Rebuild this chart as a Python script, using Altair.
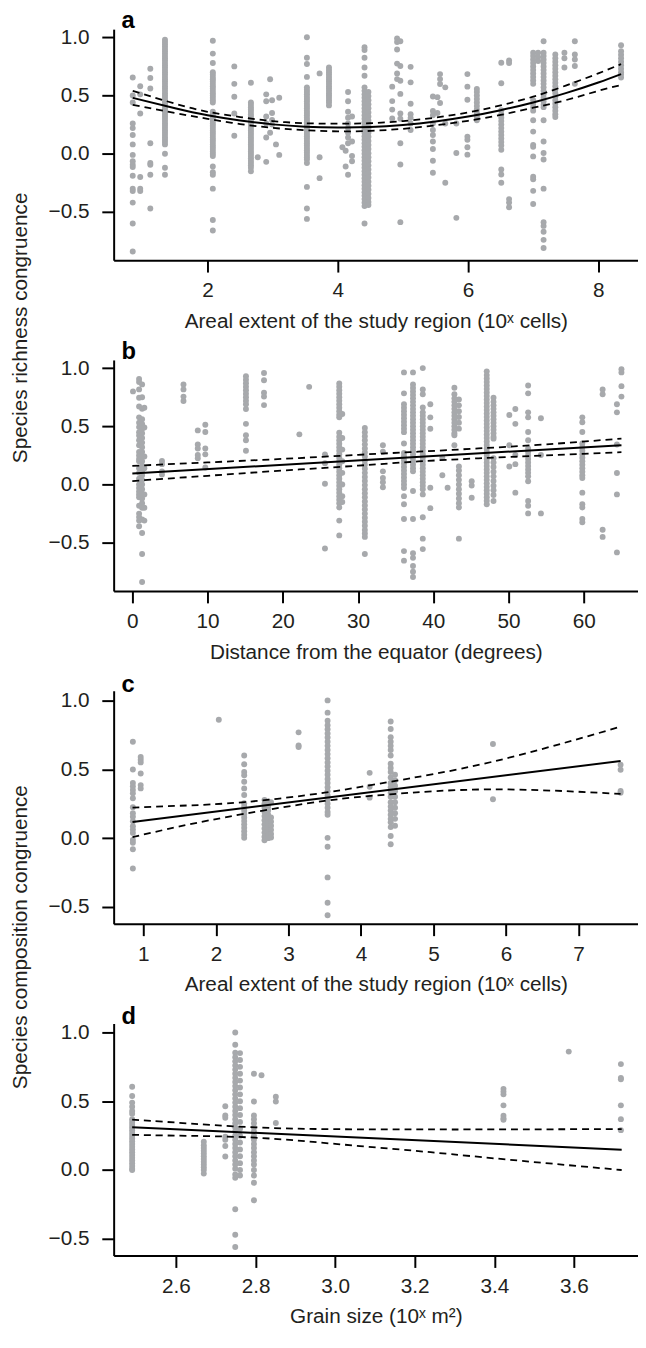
import altair as alt
import pandas as pd

FONT = "Liberation Sans"
GREY = "#a7a9ac"
INK = "#231f20"

# ---------------- panel a: richness congruence vs areal extent ----------------
A_COLS = [
    (0.85, [0.655, 0.50, 0.44, 0.26, 0.22, 0.16, 0.08, -0.01, -0.065, -0.095, -0.115, -0.19, -0.30, -0.32, -0.42, -0.60, -0.84]),
    (0.965, [0.58, 0.51, 0.345, -0.20, -0.30, -0.32]),
    (1.12, [0.73, 0.65, 0.56, 0.09, -0.08, -0.095, -0.18, -0.47]),
    (1.345, [0.98, 0.96, 0.94, 0.92, 0.90, 0.88, 0.86, 0.84, 0.82, 0.80, 0.78, 0.76, 0.74, 0.72, 0.70, 0.68, 0.66, 0.64, 0.62, 0.60,
             0.58, 0.56, 0.54, 0.52, 0.50, 0.48, 0.46, 0.44, 0.42, 0.40, 0.38, 0.36, 0.34, 0.32, 0.30, 0.28, 0.26, 0.24, 0.22, 0.20,
             0.18, 0.16, 0.14, 0.12, 0.10, 0.08, 0.0, -0.12, -0.18]),
    (2.08, [0.97, 0.86, 0.78, 0.70, 0.68, 0.66, 0.64, 0.62, 0.60, 0.58, 0.56, 0.54, 0.52, 0.50, 0.48, 0.46, 0.44, 0.36, 0.34, 0.32,
            0.30, 0.28, 0.26, 0.24, 0.22, 0.20, 0.18, 0.16, 0.14, 0.12, 0.10, 0.08, 0.06, 0.04, 0.02, 0.0, -0.02, -0.11, -0.16, -0.18,
            -0.30, -0.57, -0.66]),
    (2.41, [0.75, 0.60, 0.49, 0.345, 0.155]),
    (2.665, [0.61, 0.44, 0.42, 0.40, 0.38, 0.36, 0.34, 0.32, 0.30, 0.28, 0.26, 0.24, 0.22, 0.20, 0.18, 0.16, 0.14, 0.12, 0.10, 0.08,
             0.06, 0.04, 0.02, 0.0, -0.02, -0.04, -0.06, -0.08, -0.10, -0.12, -0.15]),
    (2.77, [-0.03]),
    (2.90, [0.51, 0.45, 0.32, 0.26, 0.14, -0.07]),
    (2.96, [0.64, 0.18]),
    (2.99, [0.46, 0.35, 0.29, 0.25]),
    (3.05, [0.08]),
    (3.10, [0.48, -0.01]),
    (3.525, [1.0, 0.825, 0.77, 0.66, 0.57, 0.55, 0.53, 0.51, 0.49, 0.47, 0.45, 0.43, 0.41, 0.39, 0.37, 0.35, 0.33, 0.31, 0.29, 0.27,
             0.25, 0.23, 0.21, 0.19, 0.17, 0.15, 0.13, 0.11, 0.09, 0.07, 0.05, 0.03, 0.01, -0.01, -0.03, -0.05, -0.08, -0.285, -0.47, -0.56]),
    (3.72, [0.69, -0.03, -0.21]),
    (3.864, [0.74, 0.72, 0.70, 0.68, 0.66, 0.64, 0.62, 0.60, 0.58, 0.56, 0.54, 0.52, 0.50, 0.48, 0.46, 0.44, 0.415]),
    (4.07, [0.055]),
    (4.12, [0.025, -0.11]),
    (4.157, [0.53, 0.45, 0.36, 0.31, 0.26, 0.22, 0.18, 0.14, 0.09, -0.18]),
    (4.218, [0.32, 0.105, -0.02, -0.065]),
    (4.41, [0.915, 0.89, 0.825, 0.74, 0.67, 0.57, 0.54, 0.51, 0.48, 0.45, 0.42, 0.39, 0.36, 0.33, 0.30, 0.27, 0.24, 0.21, 0.18, 0.15,
            0.12, 0.09, 0.06, 0.03, 0.0, -0.03, -0.06, -0.09, -0.12, -0.15, -0.18, -0.21, -0.24, -0.27, -0.30, -0.33, -0.36, -0.39,
            -0.42, -0.45, -0.60]),
    (4.47, [0.53, 0.495, 0.46, 0.425, 0.39, 0.355, 0.32, 0.285, 0.25, 0.215, 0.18, 0.145, 0.11, 0.075, 0.04, 0.005, -0.03, -0.065,
            -0.10, -0.135, -0.17, -0.205, -0.24, -0.275, -0.31, -0.345, -0.38, -0.415, -0.44]),
    (4.835, [0.576, 0.452, 0.379, 0.302]),
    (4.91, [0.99, 0.96, 0.895, 0.774, 0.689, 0.641]),
    (4.96, [0.966, 0.754, 0.627, 0.514, 0.345, 0.30, 0.09, -0.093, -0.588]),
    (5.118, [0.746, 0.613, 0.429, 0.339, 0.308, 0.26, 0.203]),
    (5.46, [0.492, 0.367, 0.33, 0.26, 0.203, 0.16, 0.105, 0.04, -0.06, -0.164]),
    (5.53, [0.486, 0.35]),
    (5.57, [0.684, 0.641, 0.599, 0.435]),
    (5.65, [0.57, 0.26, -0.249]),
    (5.82, [0.26, 0.006, -0.551]),
    (5.99, [0.684, 0.576, 0.463, 0.147, 0.12, 0.056, -0.008]),
    (6.135, [0.556, 0.53, 0.50, 0.47, 0.44, 0.41, 0.38, 0.35, 0.32, 0.288]),
    (6.51, [0.782, 0.605, 0.373, 0.34, 0.31, 0.28, 0.25, 0.22, 0.19, 0.16, 0.13, 0.10, 0.07, 0.034, -0.136, -0.178, -0.249]),
    (6.63, [0.80, 0.78, -0.39, -0.42, -0.46]),
    (7.0, [0.867, 0.84, 0.81, 0.78, 0.75, 0.72, 0.69, 0.66, 0.63, 0.60, 0.46, 0.43, 0.40, 0.37, 0.288, 0.19, 0.076, 0.06, -0.023,
           -0.198, -0.22, -0.319, -0.432]),
    (7.076, [0.867, 0.83, 0.797]),
    (7.16, [0.966, 0.867, 0.84, 0.81, 0.78, 0.75, 0.72, 0.69, 0.66, 0.63, 0.60, 0.57, 0.54, 0.51, 0.48, 0.45, 0.42, 0.40, 0.288,
            0.105, 0.006, -0.05, -0.30, -0.588, -0.62, -0.67, -0.74, -0.81]),
    (7.34, [0.853, 0.82, 0.79, 0.76, 0.73, 0.70, 0.67, 0.64, 0.61, 0.58, 0.55, 0.52, 0.49, 0.46, 0.43, 0.40, 0.37, 0.34, 0.316]),
    (7.48, [0.867, 0.82, 0.74]),
    (7.64, [0.966, 0.853, 0.81, 0.754, 0.6]),
    (8.35, [0.932, 0.88, 0.85, 0.82, 0.79, 0.76, 0.73, 0.70, 0.68, 0.655]),
]
A_FIT_X = [0.85, 1.5, 2.0, 2.5, 3.0, 3.5, 4.0, 4.5, 5.0, 5.5, 6.0, 6.5, 7.0, 7.5, 8.0, 8.35]
A_FIT = [0.48, 0.39, 0.33, 0.285, 0.252, 0.232, 0.225, 0.229, 0.247, 0.277, 0.319, 0.374, 0.44, 0.52, 0.612, 0.684]
A_UP = [0.54, 0.43, 0.36, 0.315, 0.28, 0.262, 0.258, 0.262, 0.28, 0.31, 0.355, 0.415, 0.49, 0.585, 0.69, 0.77]
A_LO = [0.42, 0.35, 0.30, 0.255, 0.222, 0.202, 0.192, 0.196, 0.214, 0.244, 0.283, 0.333, 0.395, 0.46, 0.54, 0.59]

# ---------------- panel b: richness congruence vs latitude ----------------
B_COLS = [
    (0.09, [0.80]),
    (0.9, [0.907, 0.88, 0.817, 0.746, 0.67, 0.577, 0.53, 0.493, 0.45, 0.42, 0.38, 0.338, 0.28, 0.25, 0.22, 0.20, 0.14, 0.10, 0.05,
           0.0, -0.03, -0.06, -0.085, -0.11, -0.183, -0.25, -0.28, -0.31, -0.358]),
    (1.3, [0.86, 0.75, 0.65, 0.56, 0.52, 0.48, 0.44, 0.40, 0.36, 0.32, 0.28, 0.24, 0.20, 0.16, 0.12, 0.08, 0.04, 0.0, -0.04, -0.08,
           -0.12, -0.16, -0.20, -0.30, -0.417, -0.597, -0.837]),
    (1.6, [0.66, 0.49, 0.24, 0.14, -0.085, -0.2, -0.31]),
    (3.94, [0.203, 0.175, 0.113, 0.085]),
    (6.8, [0.859, 0.817, 0.755, 0.718]),
    (8.7, [0.465, 0.344, 0.31, 0.254, 0.225]),
    (9.7, [0.513, 0.451, 0.31, 0.259, 0.146]),
    (15.1, [0.93, 0.90, 0.87, 0.84, 0.81, 0.78, 0.75, 0.72, 0.69, 0.648, 0.521, 0.423, 0.38, 0.29]),
    (17.5, [0.958, 0.896, 0.789, 0.755, 0.682]),
    (22.2, [0.431]),
    (23.5, [0.839]),
    (25.6, [0.259, 0.183, 0.006, -0.549]),
    (27.5, [0.868, 0.84, 0.81, 0.78, 0.75, 0.72, 0.69, 0.66, 0.63, 0.60, 0.577, 0.445, 0.41, 0.38, 0.35, 0.32, 0.29, 0.26, 0.23,
            0.20, 0.17, 0.14, 0.11, 0.08, 0.05, 0.02, -0.01, -0.04, -0.07, -0.10, -0.13, -0.16, -0.197, -0.31, -0.437]),
    (27.9, [0.606, 0.40, 0.30, 0.20, 0.10, 0.0, -0.10, -0.15]),
    (30.9, [0.485, 0.45, 0.415, 0.38, 0.345, 0.31, 0.275, 0.24, 0.205, 0.17, 0.135, 0.10, 0.065, 0.03, -0.005, -0.04, -0.075,
            -0.11, -0.145, -0.18, -0.215, -0.25, -0.285, -0.32, -0.355, -0.39, -0.42, -0.45, -0.597]),
    (33.3, [0.338, 0.282, 0.113, 0.056, 0.02, -0.023]),
    (36.1, [0.963, 0.783, 0.69, 0.66, 0.63, 0.60, 0.57, 0.54, 0.51, 0.48, 0.45, 0.352, 0.27, 0.24, 0.21, 0.18, 0.15, 0.12, 0.09,
            0.06, 0.03, 0.0, -0.03, -0.1, -0.17, -0.296, -0.572, -0.654]),
    (37.3, [0.963, 0.859, 0.83, 0.80, 0.77, 0.74, 0.71, 0.68, 0.648, 0.62, 0.59, 0.56, 0.53, 0.50, 0.47, 0.44, 0.41, 0.38, 0.35,
            0.32, 0.29, 0.26, 0.23, 0.20, 0.17, 0.14, 0.113, -0.056, -0.296, -0.59, -0.63, -0.70, -0.75, -0.795]),
    (38.6, [1.0, 0.817, 0.775, 0.662, 0.62, 0.59, 0.56, 0.53, 0.50, 0.47, 0.44, 0.41, 0.38, 0.35, 0.32, 0.29, 0.26, 0.23, 0.20,
            0.17, 0.14, 0.11, 0.08, 0.05, 0.02, -0.01, -0.04, -0.085, -0.282, -0.465, -0.555]),
    (39.6, [0.69, 0.577, 0.479, -0.028, -0.203]),
    (41.2, [0.231, 0.079]),
    (41.9, [-0.028]),
    (42.8, [0.831, 0.775, 0.74, 0.71, 0.68, 0.65, 0.62, 0.59, 0.56, 0.53, 0.50, 0.47, 0.44, 0.423, 0.338]),
    (43.4, [0.73, 0.68, 0.63, 0.58, 0.53, 0.48, 0.155, 0.12, 0.08, 0.04, 0.0, -0.04, -0.08, -0.12, -0.16, -0.197, -0.465]),
    (45.1, [0.028, -0.008, -0.113]),
    (47.1, [0.972, 0.94, 0.91, 0.88, 0.85, 0.82, 0.79, 0.76, 0.73, 0.70, 0.67, 0.64, 0.61, 0.58, 0.55, 0.52, 0.49, 0.46, 0.43,
            0.40, 0.37, 0.34, 0.31, 0.28, 0.254, 0.22, 0.19, 0.16, 0.13, 0.10, 0.07, 0.04, 0.01, -0.02, -0.05, -0.08, -0.11, -0.14,
            -0.17]),
    (48.0, [0.746, 0.71, 0.68, 0.65, 0.62, 0.59, 0.56, 0.53, 0.50, 0.47, 0.44, 0.41, 0.394, 0.225, 0.19, 0.15, 0.11, 0.07, 0.03,
            -0.01, -0.05, -0.09, -0.141]),
    (50.1, [0.597, 0.338, 0.155]),
    (50.9, [0.648, 0.521, 0.254, 0.175, -0.07]),
    (52.6, [0.851, 0.783, 0.62, 0.577, 0.451, 0.38, 0.31, 0.28, 0.25, 0.22, 0.19, 0.16, 0.13, 0.10, 0.07, 0.028, -0.141, -0.183,
            -0.248]),
    (54.3, [0.569, 0.254, -0.248]),
    (59.8, [0.577, 0.535, 0.451, 0.352, 0.32, 0.29, 0.26, 0.23, 0.20, 0.17, 0.14, 0.11, 0.08, 0.056, -0.07, -0.169, -0.197,
            -0.296, -0.324]),
    (62.5, [0.817, 0.775, -0.389, -0.45]),
    (64.4, [0.69, 0.62, 0.344, 0.099, -0.085, -0.583]),
    (65.0, [0.99, 0.963, 0.845, 0.755]),
]
B_FIT_X = [0, 65]
B_FIT = [0.095, 0.338]
B_CI_X = [0, 10, 20, 30, 38, 46, 55, 65]
B_UP = [0.16, 0.19, 0.22, 0.255, 0.282, 0.31, 0.345, 0.395]
B_LO = [0.03, 0.075, 0.12, 0.162, 0.198, 0.225, 0.25, 0.278]

# ---------------- panel c: composition congruence vs areal extent ----------------
C_COLS = [
    (0.855, [0.70, 0.498, 0.40, 0.376, 0.35, 0.325, 0.29, 0.225, 0.18, 0.156, 0.122, 0.086, 0.062, 0.038, -0.014, -0.033,
             -0.081, -0.22]),
    (0.963, [0.589, 0.569, 0.55, 0.469, 0.385, 0.361]),
    (2.04, [0.859]),
    (2.39, [0.60, 0.536, 0.48, 0.457, 0.409, 0.361, 0.313, 0.254, 0.23, 0.20, 0.175, 0.15, 0.125, 0.10, 0.075, 0.05, 0.025, 0.002]),
    (2.67, [0.278, 0.25, 0.22, 0.19, 0.16, 0.13, 0.10, 0.07, 0.04, 0.01, -0.015]),
    (2.72, [0.266, 0.23, 0.20, 0.17, 0.14, 0.11, 0.08, 0.05, 0.02, 0.0]),
    (2.76, [0.26, 0.15, 0.12, 0.09, 0.06, 0.03, 0.005]),
    (3.14, [0.768, 0.672, 0.662]),
    (3.54, [1.0, 0.911, 0.852, 0.82, 0.79, 0.76, 0.73, 0.70, 0.67, 0.64, 0.61, 0.58, 0.55, 0.52, 0.49, 0.46, 0.43, 0.40, 0.37,
            0.34, 0.31, 0.28, 0.25, 0.22, 0.19, 0.17, 0.002, -0.062, -0.285, -0.469, -0.56]),
    (4.12, [0.474, 0.373, 0.294]),
    (4.41, [0.847, 0.792, 0.732, 0.70, 0.67, 0.64, 0.60, 0.54, 0.51, 0.48, 0.44, 0.40, 0.37, 0.33, 0.30, 0.26, 0.23, 0.20, 0.17,
            0.14, 0.115, 0.08, 0.015, -0.045]),
    (4.47, [0.46, 0.42, 0.38, 0.34, 0.30, 0.26, 0.22, 0.18, 0.14, 0.09]),
    (5.82, [0.684, 0.282]),
    (7.58, [0.533, 0.497, 0.342, 0.33]),
]
C_FIT_X = [0.85, 7.58]
C_FIT = [0.117, 0.56]
C_CI_X = [0.85, 1.5, 2.4, 3.5, 4.4, 5.8, 7.58]
C_UP = [0.222, 0.235, 0.262, 0.33, 0.409, 0.553, 0.809]
C_LO = [0.007, 0.085, 0.177, 0.27, 0.318, 0.354, 0.321]

# ---------------- panel d: composition congruence vs grain size ----------------
D_COLS = [
    (2.49, [0.605, 0.538, 0.49, 0.46, 0.43, 0.41, 0.37, 0.35, 0.33, 0.31, 0.29, 0.27, 0.25, 0.23, 0.21, 0.19, 0.17, 0.15, 0.13,
            0.11, 0.09, 0.07, 0.05, 0.03, 0.01, 0.0]),
    (2.67, [0.206, 0.18, 0.16, 0.14, 0.12, 0.10, 0.08, 0.06, 0.04, 0.02, 0.0, -0.026]),
    (2.724, [0.464, 0.397, 0.38, 0.242, 0.22, 0.175, 0.098]),
    (2.749, [1.0, 0.911, 0.852, 0.82, 0.79, 0.76, 0.73, 0.70, 0.67, 0.64, 0.61, 0.58, 0.55, 0.52, 0.49, 0.46, 0.43, 0.40, 0.37,
             0.34, 0.31, 0.28, 0.25, 0.22, 0.19, 0.16, 0.13, 0.10, 0.07, 0.04, 0.01, -0.033, -0.057, -0.285, -0.471, -0.56]),
    (2.761, [0.85, 0.80, 0.75, 0.70, 0.65, 0.60, 0.55, 0.50, 0.45, 0.40, 0.35, 0.30, 0.25, 0.20, 0.15, 0.10, 0.05, 0.0, -0.04]),
    (2.796, [0.70, 0.498, 0.397, 0.37, 0.34, 0.31, 0.28, 0.25, 0.22, 0.19, 0.16, 0.13, 0.10, 0.07, 0.04, 0.0, -0.04, -0.093, -0.22]),
    (2.815, [0.689]),
    (2.851, [0.533, 0.498, 0.342]),
    (3.423, [0.59, 0.57, 0.55, 0.47, 0.394, 0.375, 0.365]),
    (3.587, [0.861]),
    (3.718, [0.77, 0.67, 0.66, 0.47, 0.37, 0.29]),
]
D_FIT_X = [2.49, 3.72]
D_FIT = [0.311, 0.148]
D_CI_X = [2.49, 2.6, 2.8, 3.0, 3.2, 3.4, 3.72]
D_UP = [0.366, 0.345, 0.31, 0.297, 0.295, 0.295, 0.298]
D_LO = [0.256, 0.25, 0.235, 0.19, 0.14, 0.085, 0.0]

Y_TICKS = [-0.5, 0.0, 0.5, 1.0]
PLOT_W = 531


def panel(cols, fit_x, fit_y, ci_x, up, lo, xdom, ydom, xticks, xfmt, xtitle,
          ytitle, title_y, letter, h):
    pts = pd.DataFrame([(x, y) for x, ys in cols for y in ys], columns=["x", "y"])
    fit = pd.DataFrame({"x": fit_x, "y": fit_y})
    ci = pd.DataFrame({"x": list(ci_x) * 2, "y": list(up) + list(lo),
                       "band": ["up"] * len(ci_x) + ["lo"] * len(ci_x)})
    xenc = alt.X("x:Q", scale=alt.Scale(domain=xdom, nice=False, zero=False),
                 axis=alt.Axis(values=xticks, format=xfmt, title=xtitle))
    yenc = alt.Y("y:Q", scale=alt.Scale(domain=ydom, nice=False, zero=False),
                 axis=alt.Axis(values=Y_TICKS, format=".1f", title=ytitle,
                               titleX=-84, titleY=title_y, titleAngle=270,
                               titleBaseline="bottom", titleAlign="center"))
    p = alt.Chart(pts).mark_circle(size=36, color=GREY, opacity=1).encode(x=xenc, y=yenc)
    c = alt.Chart(ci).mark_line(color="black", strokeWidth=1.8, strokeDash=[7, 5],
                                interpolate="natural").encode(x=xenc, y=yenc, detail="band:N")
    f = alt.Chart(fit).mark_line(color="black", strokeWidth=2,
                                 interpolate="natural").encode(x=xenc, y=yenc)
    return alt.layer(p, c, f).properties(
        width=PLOT_W, height=h,
        title=alt.TitleParams(text=letter, anchor="start", frame="group", dx=8, offset=-7,
                              fontSize=24, fontWeight="bold", font=FONT, color="black"))


pa = panel(A_COLS, A_FIT_X, A_FIT, A_FIT_X, A_UP, A_LO, [0.557, 8.61], [-0.915, 1.07],
           [2, 4, 6, 8], "d", "Areal extent of the study region (10\u02e3 cells)",
           "Species richness congruence", 302, "a", 234)
pb = panel(B_COLS, B_FIT_X, B_FIT, B_CI_X, B_UP, B_LO, [-2.48, 67.2], [-0.915, 1.07],
           [0, 10, 20, 30, 40, 50, 60], "d", "Distance from the equator (degrees)",
           "", 0, "b", 234)
pc = panel(C_COLS, C_FIT_X, C_FIT, C_CI_X, C_UP, C_LO, [0.59, 7.82], [-0.622, 1.07],
           [1, 2, 3, 4, 5, 6, 7], "d", "Areal extent of the study region (10\u02e3 cells)",
           "Species composition congruence", 249, "c", 236)
pd_ = panel(D_COLS, D_FIT_X, D_FIT, D_CI_X, D_UP, D_LO, [2.4435, 3.761], [-0.622, 1.065],
            [2.6, 2.8, 3.0, 3.2, 3.4, 3.6], ".1f", "Grain size (10\u02e3 m\u00b2)",
            "", 0, "d", 235)

chart = alt.vconcat(pa, pb, pc, pd_, spacing=101, bounds="flush").properties(
    padding={"left": 2, "top": -7, "right": 0, "bottom": 0}
).configure_view(stroke=None).configure_axis(
    domainColor="black", domainWidth=2, tickColor="black", tickWidth=2, tickSize=12,
    labelFont=FONT, labelFontSize=21, labelColor=INK,
    titleFont=FONT, titleFontSize=21, titleFontWeight="normal", titleColor=INK,
    grid=False,
).configure_axisX(labelPadding=8, titlePadding=10).configure_axisY(labelPadding=13)

chart.save("out.html", embed_options={"renderer": "svg", "actions": False})
